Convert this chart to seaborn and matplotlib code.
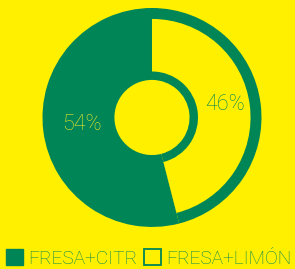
import matplotlib
matplotlib.use("Agg")
import matplotlib.pyplot as plt
from matplotlib.patches import Patch
import seaborn as sns

# data
labels = ["FRESA+CITR", "FRESA+LIMÓN"]
shares = [54, 46]
pct_text = ["54%", "46%"]

GREEN = "#008556"
YELLOW = "#fff000"

sns.set_theme(style="white")
plt.rcParams["font.family"] = ["Roboto", "DejaVu Sans"]

fig = plt.figure(figsize=(2.95, 2.69), dpi=100)
fig.patch.set_facecolor(YELLOW)
ax = fig.add_axes([0, 0, 1, 1])
ax.set_facecolor(YELLOW)

# green background ring, then the yellow slice inset inside it
ax.pie(shares, colors=[GREEN, GREEN], startangle=90, radius=1.0,
       wedgeprops=dict(width=1.0 - 0.343, linewidth=0))
ax.pie(shares, colors=["none", YELLOW], startangle=90, radius=0.90,
       wedgeprops=dict(width=0.90 - 0.42, linewidth=0))

ax.set_aspect("auto")
ax.set_xlim(-1.388, 1.306)
ax.set_ylim(-1.384, 1.073)
ax.axis("off")

ax.text(-0.642, -0.06, pct_text[0], color="#e6e82a", fontsize=15.5,
        fontweight="light", ha="center", va="center")
ax.text(0.668, 0.114, pct_text[1], color=GREEN, fontsize=15.5,
        fontweight="light", ha="center", va="center")

handles = [Patch(facecolor=GREEN, edgecolor=GREEN, linewidth=1),
           Patch(facecolor=YELLOW, edgecolor=GREEN, linewidth=1.3)]
leg = fig.legend(handles, labels, loc="lower left", bbox_to_anchor=(0.022, 0.005),
                 ncol=2, frameon=False, borderpad=0, borderaxespad=0,
                 handlelength=0.85, handleheight=0.85, handletextpad=0.3,
                 columnspacing=0.35, prop=dict(weight="light", size=13.8))
for t in leg.get_texts():
    t.set_color(GREEN)

fig.savefig("out.png", dpi=100, facecolor=YELLOW)
